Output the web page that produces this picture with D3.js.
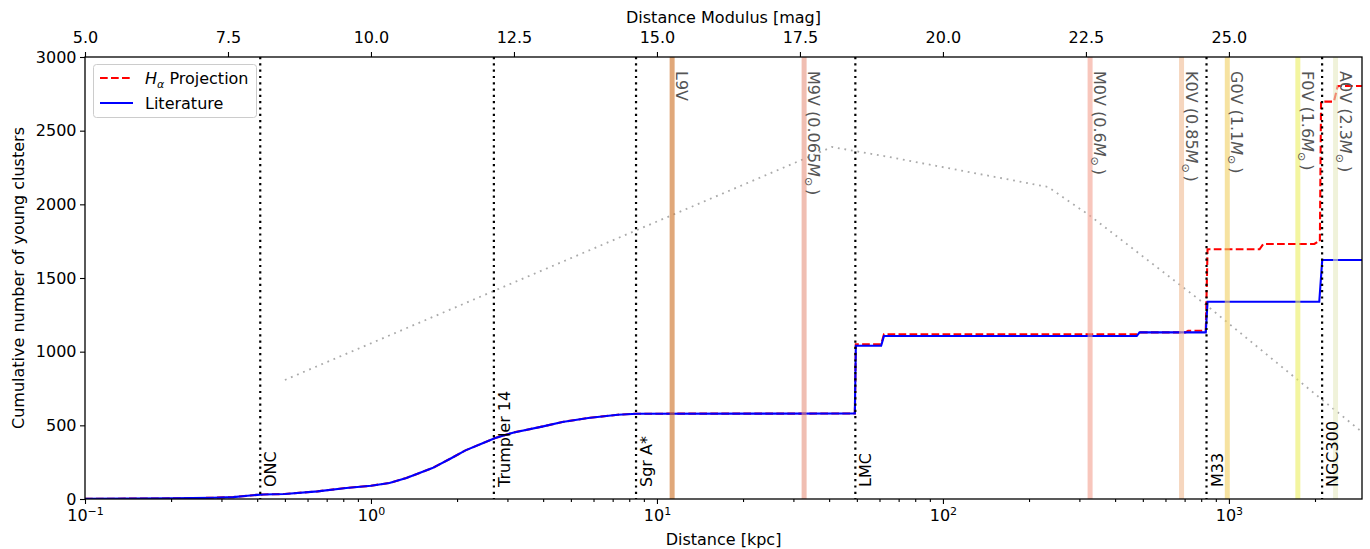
<!DOCTYPE html>
<html><head><meta charset="utf-8">
<script src="https://cdn.jsdelivr.net/npm/d3@7"></script>
<style>body{margin:0;background:#fff} svg{display:block;font-family:"DejaVu Sans",sans-serif}</style>
</head><body><svg id="c" width="1370" height="549"></svg>
<script>
// ---------- data ----------
const xLim = [0.1, 2920];
const yLim = [0, 3000];
const yTicks = [0, 500, 1000, 1500, 2000, 2500, 3000];
const xMajorTicks = [0.1, 1, 10, 100, 1000];
const topTicks = [5, 7.5, 10, 12.5, 15, 17.5, 20, 22.5, 25];

// Literature cumulative counts (distance kpc, count)
const litDist  = [0.1, 0.2, 0.28, 0.33, 0.37, 0.40, 0.42, 0.5, 0.65, 0.82, 1.0, 1.16, 1.33, 1.64, 1.90, 2.14, 2.41, 2.72, 3.16, 4.0, 4.67, 5.75, 7.3, 8.5, 49.2, 49.6, 60.8, 62.2, 476, 487, 830, 842, 2070, 2120, 2920];
const litCount = [1, 4, 8, 13, 22, 28, 31, 34, 52, 75, 90, 109, 143, 210, 275, 330, 372, 414, 452, 493, 523, 550, 572, 579, 580, 1040, 1040, 1106, 1106, 1131, 1131, 1339, 1339, 1622, 1622];

// H-alpha projection cumulative counts
const haDist  = [0.1, 0.2, 0.28, 0.33, 0.37, 0.40, 0.42, 0.5, 0.65, 0.82, 1.0, 1.16, 1.33, 1.64, 1.90, 2.14, 2.41, 2.72, 3.16, 4.0, 4.67, 5.75, 7.3, 8.5, 49.2, 49.6, 60.8, 62.2, 476, 487, 705, 720, 830, 842, 1280, 1320, 1990, 2040, 2080, 2100, 2330, 2400, 2920];
const haCount = [1, 4, 8, 13, 22, 28, 31, 34, 52, 75, 90, 109, 143, 210, 275, 330, 372, 414, 452, 493, 523, 550, 572, 579, 580, 1050, 1050, 1118, 1118, 1131, 1131, 1142, 1142, 1695, 1695, 1731, 1731, 1745, 1745, 2697, 2697, 2803, 2803];

// grey dotted curve
const greyDist = [0.5, 40.9, 65, 233, 324, 832, 2080, 2920];
const greyVal  = [808, 2389, 2321, 2118, 1928, 1317, 686, 455];

// reference objects
const refNames = ["ONC", "Trumpler 14", "Sgr A*", "LMC", "M33", "NGC300"];
const refDist  = [0.41, 2.69, 8.45, 49.4, 835, 2118];

// stellar type limits
const starNames  = ["L9V", "M9V", "M0V", "K0V", "G0V", "F0V", "A0V"];
const starMass   = [null, "0.065", "0.6", "0.85", "1.1", "1.6", "2.3"];
const starDist   = [11.3, 32.7, 327, 683, 987, 1742, 2360];
const starColors = ["#cb6e21", "#e6937f", "#f3a08f", "#f0bb93", "#f0cf61", "#ebee61", "#e6e9c1"];

// ---------- layout ----------
const FS = "16px", FSS = "11px";
const L = 85, R = 1362, T = 57, B = 499;
const svg = d3.select("#c");
const x = d3.scaleLog().domain(xLim).range([L, R]);
const y = d3.scaleLinear().domain(yLim).range([B, T]);
const distMod = d => 5 * Math.log10(d * 1000) - 5;
const xTop = d3.scaleLinear().domain(xLim.map(distMod)).range([L, R]);

svg.append("defs").append("clipPath").attr("id", "clip")
  .append("rect").attr("x", L).attr("y", T).attr("width", R - L).attr("height", B - T);

const plot = svg.append("g").attr("clip-path", "url(#clip)");
const line = d3.line().x(d => x(d[0])).y(d => y(d[1]));

// grey dotted
plot.append("path").datum(d3.zip(greyDist, greyVal))
  .attr("d", line).attr("fill", "none").attr("stroke", "#aaaaaa")
  .attr("stroke-width", 1.8).attr("stroke-dasharray", "1.8,4.8");

// red dashed
plot.append("path").datum(d3.zip(haDist, haCount))
  .attr("d", line).attr("fill", "none").attr("stroke", "#ff0000")
  .attr("stroke-width", 2.1).attr("stroke-dasharray", "7.7,3.3");

// blue
plot.append("path").datum(d3.zip(litDist, litCount))
  .attr("d", line).attr("fill", "none").attr("stroke", "#0000ff")
  .attr("stroke-width", 2.1);

// star bands
plot.selectAll("line.star").data(starDist).enter().append("line")
  .attr("x1", d => x(d)).attr("x2", d => x(d)).attr("y1", T).attr("y2", B)
  .attr("stroke", (d, i) => starColors[i]).attr("stroke-opacity", 0.6).attr("stroke-width", 5);

// reference dotted verticals
plot.selectAll("line.ref").data(refDist).enter().append("line")
  .attr("x1", d => x(d)).attr("x2", d => x(d)).attr("y1", T).attr("y2", B)
  .attr("stroke", "#000").attr("stroke-width", 2.2).attr("stroke-dasharray", "2.2,4.1");

// reference labels (bottom to top)
refNames.forEach((n, i) => {
  const px = x(refDist[i]) + 16, py = 487;
  svg.append("text").attr("transform", `translate(${px},${py}) rotate(-90)`)
    .attr("font-size", FS).attr("fill", "#000").text(n);
});

// star labels (top to bottom)
starNames.forEach((n, i) => {
  const px = x(starDist[i]) + 4, py = 71;
  const t = svg.append("text").attr("transform", `translate(${px},${py}) rotate(90)`)
    .attr("font-size", FS).attr("fill", "#555");
  if (starMass[i] === null) { t.text(n); return; }
  t.append("tspan").text(n + " (" + starMass[i]);
  t.append("tspan").attr("font-style", "italic").text("M");
  t.append("tspan").attr("font-size", FSS).attr("dy", 3.5).text("\u2299");
  t.append("tspan").attr("dy", -3.5).attr("dx", 3).text(")");
});

// ---------- axes ----------
const axB = svg.append("g").attr("transform", `translate(0,${B})`)
  .call(d3.axisBottom(x).tickValues(xMajorTicks).tickSize(5).tickPadding(5.5).tickFormat(() => "10"));
axB.selectAll(".tick text").each(function (d) {
  const e = Math.round(Math.log10(d));
  d3.select(this).append("tspan").attr("dy", "-0.5em").attr("font-size", FSS)
    .text(e < 0 ? "\u2212" + (-e) : String(e));
});
const minors = [];
[0.1, 1, 10, 100, 1000].forEach(dec => { for (let k = 2; k <= 9; k++) { const v = dec * k; if (v <= xLim[1]) minors.push(v); } });
svg.append("g").attr("transform", `translate(0,${B})`)
  .call(d3.axisBottom(x).tickValues(minors).tickSize(3).tickFormat(""));

svg.append("g").attr("transform", `translate(${L},0)`)
  .call(d3.axisLeft(y).tickValues(yTicks).tickSize(5).tickPadding(3.5).tickFormat(d3.format("d")));

svg.append("g").attr("transform", `translate(0,${T})`)
  .call(d3.axisTop(xTop).tickValues(topTicks).tickSize(5).tickPadding(9).tickFormat(d3.format(".1f")));

svg.selectAll(".domain").remove();
svg.selectAll(".tick line").attr("stroke", "#000").attr("stroke-width", 1.1);
svg.selectAll(".tick text").attr("font-size", FS).attr("font-family", "DejaVu Sans").attr("fill", "#000");
axB.selectAll(".tick text tspan").attr("font-size", FSS);

// spines
svg.append("rect").attr("x", L).attr("y", T).attr("width", R - L).attr("height", B - T)
  .attr("fill", "none").attr("stroke", "#000").attr("stroke-width", 1.3);

// titles
svg.append("text").attr("x", (L + R) / 2).attr("y", 23).attr("text-anchor", "middle")
  .attr("font-size", FS).text("Distance Modulus [mag]");
svg.append("text").attr("x", (L + R) / 2).attr("y", 544.5).attr("text-anchor", "middle")
  .attr("font-size", FS).text("Distance [kpc]");
svg.append("text").attr("transform", `translate(24,${(T + B) / 2}) rotate(-90)`)
  .attr("text-anchor", "middle").attr("font-size", FS).text("Cumulative number of young clusters");

// legend
const lg = svg.append("g");
lg.append("rect").attr("x", 93.5).attr("y", 64.5).attr("width", 163).attr("height", 53).attr("rx", 3)
  .attr("fill", "#fff").attr("fill-opacity", 0.8).attr("stroke", "#cccccc").attr("stroke-width", 1);
lg.append("line").attr("x1", 100).attr("x2", 133).attr("y1", 78).attr("y2", 78)
  .attr("stroke", "#ff0000").attr("stroke-width", 2.1).attr("stroke-dasharray", "7.7,3.3");
lg.append("line").attr("x1", 100).attr("x2", 133).attr("y1", 103).attr("y2", 103)
  .attr("stroke", "#0000ff").attr("stroke-width", 2.1);
const t1 = lg.append("text").attr("x", 145).attr("y", 84).attr("font-size", FS);
t1.append("tspan").attr("font-style", "italic").text("H");
t1.append("tspan").attr("font-style", "italic").attr("font-size", FSS).attr("dy", 3.5).text("\u03b1");
t1.append("tspan").attr("dy", -3.5).text(" Projection");
lg.append("text").attr("x", 145).attr("y", 109).attr("font-size", FS).text("Literature");
</script></body></html>
